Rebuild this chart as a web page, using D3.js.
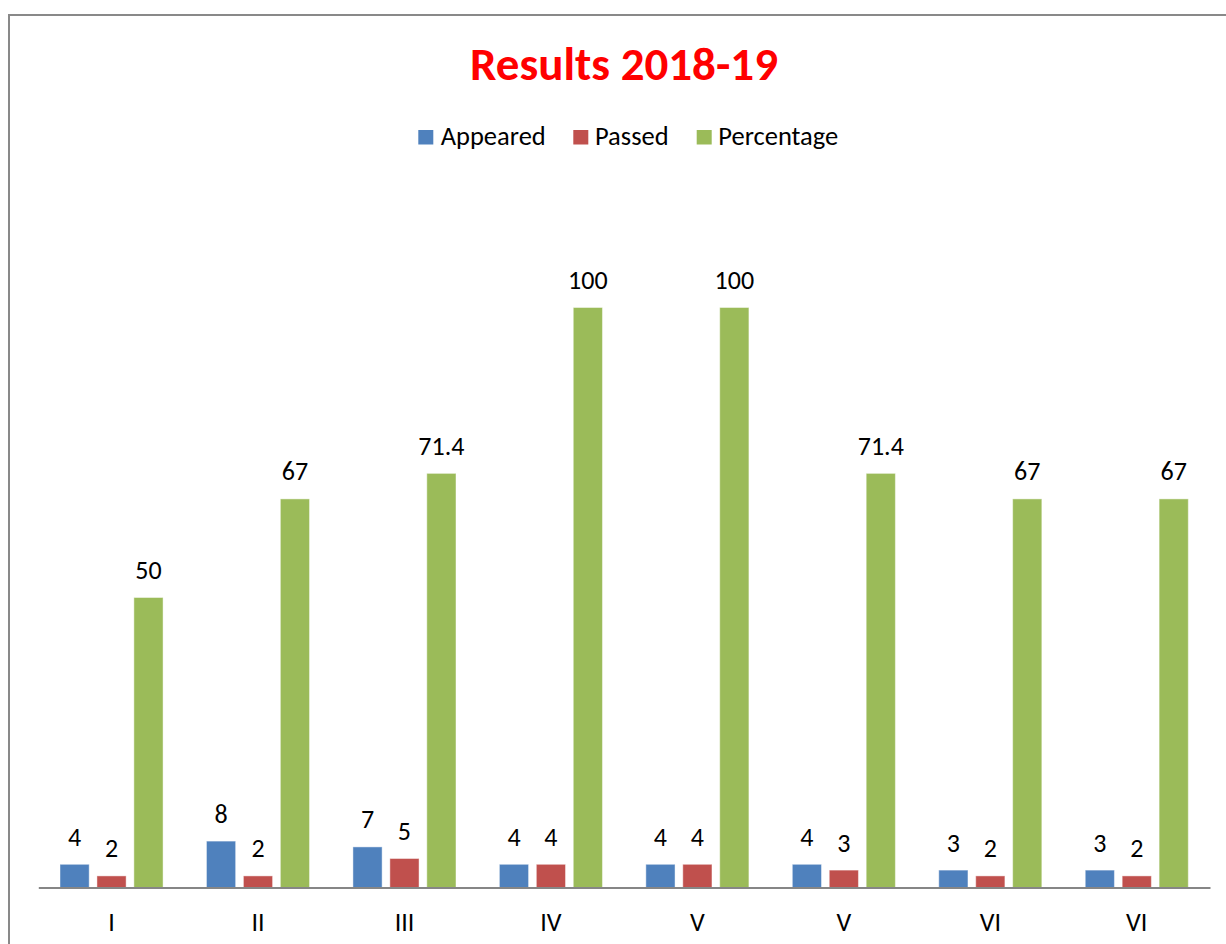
<!DOCTYPE html>
<html>
<head>
<meta charset="utf-8">
<script src="https://cdn.jsdelivr.net/npm/d3@7"></script>
<style>
  html, body { margin: 0; padding: 0; background: #fff; }
  svg { display: block; }
  text { font-family: Carlito, Calibri, Lato, "Open Sans", sans-serif; }
</style>
</head>
<body>
<svg id="chart" width="1226" height="944"></svg>
<script>
const categories = ["I", "II", "III", "IV", "V", "V", "VI", "VI"];
const seriesNames = ["Appeared", "Passed", "Percentage"];
const appeared = [4, 8, 7, 4, 4, 4, 3, 3];
const passed = [2, 2, 5, 4, 4, 3, 2, 2];
const percentage = [50, 67, 71.4, 100, 100, 71.4, 67, 67];
const seriesColors = ["#4F81BD", "#C0504D", "#9BBB59"];
const titleText = "Results 2018-19";

const seriesValues = [appeared, passed, percentage];

const svg = d3.select("#chart");

// chart border
svg.append("rect")
  .attr("x", 9).attr("y", 15)
  .attr("width", 1240).attr("height", 960)
  .attr("fill", "none")
  .attr("stroke", "#898989")
  .attr("stroke-width", 2);

const margin = { left: 38.3, right: 1210, top: 307.5, bottom: 887.5 };

const x = d3.scaleBand()
  .domain(categories.map((d, i) => i))
  .range([margin.left, margin.right])
  .paddingInner(0).paddingOuter(0);

const xInner = d3.scaleBand()
  .domain(seriesNames)
  .range([21.7, x.bandwidth() - 21.7])
  .paddingInner(0.21)
  .paddingOuter(0);

const y = d3.scaleLinear()
  .domain([0, 100])
  .range([margin.bottom, margin.top]);

// title
svg.append("text")
  .attr("x", 624).attr("y", 79.5)
  .attr("text-anchor", "middle")
  .attr("font-weight", "bold")
  .attr("font-size", 47)
  .attr("fill", "#FF0000")
  .text(titleText);

// legend
const legendItems = [
  { name: "Appeared", sx: 418.3, tx: 440.7 },
  { name: "Passed", sx: 573.3, tx: 595 },
  { name: "Percentage", sx: 696.7, tx: 718.3 }
];
const legend = svg.append("g");
legendItems.forEach((it, i) => {
  legend.append("rect")
    .attr("x", it.sx).attr("y", 130)
    .attr("width", 15).attr("height", 14.5)
    .attr("fill", seriesColors[i]);
  legend.append("text")
    .attr("x", it.tx).attr("y", 144.5)
    .attr("font-size", 26.5)
    .attr("fill", "#000")
    .text(seriesNames[i]);
});

// bars
const groups = svg.append("g").selectAll("g")
  .data(categories.map((c, i) => i))
  .join("g")
  .attr("transform", i => `translate(${x(i)},0)`);

groups.selectAll("rect")
  .data(i => seriesNames.map((s, k) => ({ s, k, v: seriesValues[k][i] })))
  .join("rect")
  .attr("x", d => xInner(d.s))
  .attr("y", d => y(d.v))
  .attr("width", xInner.bandwidth())
  .attr("height", d => y(0) - y(d.v))
  .attr("fill", d => seriesColors[d.k])
  .attr("stroke", "rgba(255,255,255,0.45)")
  .attr("stroke-width", 1);

groups.selectAll("text.lbl")
  .data(i => seriesNames.map((s, k) => ({ s, k, v: seriesValues[k][i] })))
  .join("text")
  .attr("class", "lbl")
  .attr("x", d => xInner(d.s) + xInner.bandwidth() / 2)
  .attr("y", d => y(d.v) - 18.5)
  .attr("text-anchor", "middle")
  .attr("font-size", 26)
  .attr("fill", "#000")
  .text(d => String(d.v));

// x axis
const xAxis = d3.axisBottom(x)
  .tickFormat(i => categories[i])
  .tickSize(0)
  .tickPadding(25);

const axisG = svg.append("g")
  .attr("transform", `translate(0,${margin.bottom})`)
  .call(xAxis);
axisG.select(".domain")
  .attr("stroke", "#868686")
  .attr("stroke-width", 2);
axisG.selectAll(".tick text")
  .attr("font-size", 26)
  .attr("fill", "#000")
  .attr("font-family", "Carlito, Calibri, Lato, 'Open Sans', sans-serif");
</script>
</body>
</html>
